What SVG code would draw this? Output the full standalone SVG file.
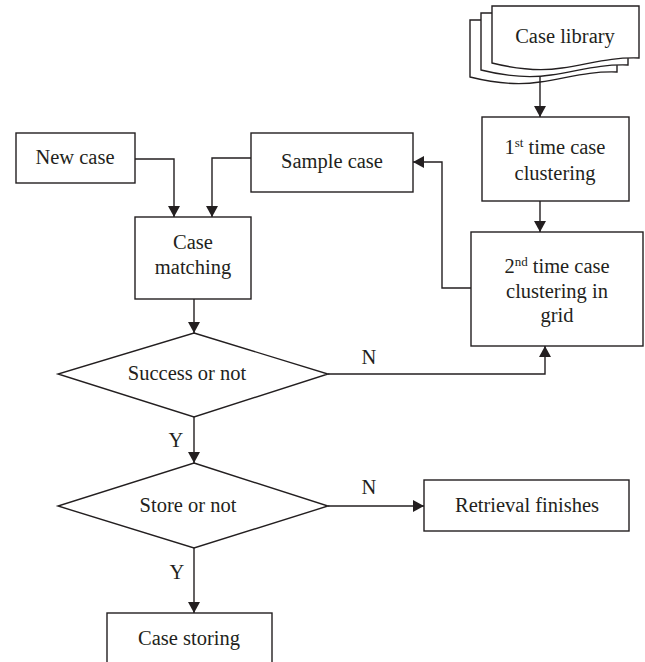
<svg xmlns="http://www.w3.org/2000/svg" width="645" height="662" viewBox="0 0 645 662">
<style>
.box{fill:#fff;stroke:#231f20;stroke-width:1.4}
.ln{fill:none;stroke:#231f20;stroke-width:1.4;marker-end:url(#ah)}
.t{font-family:"Liberation Serif",serif;font-size:20.5px;fill:#231f20;text-anchor:middle}
.sup{font-size:13px}
</style>
<defs>
<marker id="ah" markerUnits="userSpaceOnUse" viewBox="0 0 11 12" refX="11" refY="6" markerWidth="11" markerHeight="12" orient="auto">
<path d="M0,0 L11,6 L0,12 Z" fill="#231f20"/>
</marker>
<path id="doc" d="M0,0 H147 V52 C118,51 98,58 70,62 C45,66 20,62 0,57 Z"/>
</defs>
<rect width="645" height="662" fill="#fff"/>

<g id="case-library">
<use href="#doc" x="470" y="20" class="box"/>
<use href="#doc" x="481" y="13" class="box"/>
<use href="#doc" x="492" y="6" class="box"/>
<text class="t" x="565" y="43">Case library</text>
</g>

<g id="first-clustering">
<rect class="box" x="482" y="117" width="147" height="84"/>
<text class="t" x="555" y="154">1<tspan class="sup" dy="-7">st</tspan><tspan dy="7"> time case</tspan></text>
<text class="t" x="555" y="180">clustering</text>
</g>

<g id="second-clustering">
<rect class="box" x="471" y="232" width="172" height="114"/>
<text class="t" x="557" y="273">2<tspan class="sup" dy="-7">nd</tspan><tspan dy="7"> time case</tspan></text>
<text class="t" x="557" y="298">clustering in</text>
<text class="t" x="557" y="322">grid</text>
</g>

<g id="new-case">
<rect class="box" x="16" y="133" width="119" height="50"/>
<text class="t" x="75" y="164">New case</text>
</g>

<g id="sample-case">
<rect class="box" x="251" y="133" width="162" height="59"/>
<text class="t" x="332" y="168">Sample case</text>
</g>

<g id="case-matching">
<rect class="box" x="135" y="217" width="116" height="82"/>
<text class="t" x="193" y="249">Case</text>
<text class="t" x="193" y="274">matching</text>
</g>

<g id="success">
<polygon class="box" points="194,333 328,374 194,417 58,374"/>
<text class="t" x="187" y="380">Success or not</text>
</g>

<g id="store">
<polygon class="box" points="194,463 328,506 194,548 58,506"/>
<text class="t" x="188" y="512">Store or not</text>
</g>

<g id="retrieval-finishes">
<rect class="box" x="424" y="480" width="205" height="51"/>
<text class="t" x="527" y="512">Retrieval finishes</text>
</g>

<g id="case-storing">
<rect class="box" x="107" y="613" width="165" height="80"/>
<text class="t" x="189" y="645">Case storing</text>
</g>

<g id="connectors">
<path class="ln" d="M540,77 V117"/>
<path class="ln" d="M540,201 V232"/>
<path class="ln" d="M471,288 H442 V162 H413"/>
<path class="ln" d="M135,159 H174 V217"/>
<path class="ln" d="M251,158 H212 V217"/>
<path class="ln" d="M194,299 V333"/>
<path class="ln" d="M328,374 H545 V346"/>
<path class="ln" d="M194,417 V463"/>
<path class="ln" d="M328,506 H424"/>
<path class="ln" d="M194,548 V613"/>
<text class="t" x="369" y="364">N</text>
<text class="t" x="176" y="447">Y</text>
<text class="t" x="369" y="494">N</text>
<text class="t" x="177" y="579">Y</text>
</g>
</svg>
